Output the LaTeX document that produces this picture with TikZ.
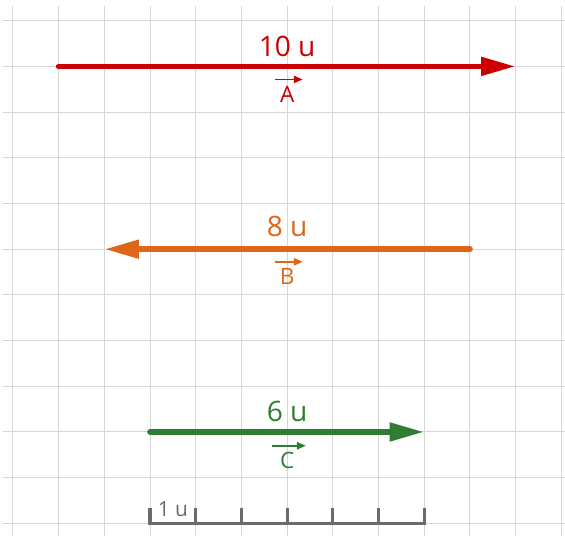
\documentclass[tikz,border=0pt]{standalone}
\usepackage{fontspec}
\setmainfont{Open Sans}
\usetikzlibrary{arrows.meta,calc}

\definecolor{vecred}{HTML}{CC0000}
\definecolor{vecorange}{HTML}{DF6518}
\definecolor{vecgreen}{HTML}{2E7D32}
\definecolor{bargray}{HTML}{6B6B6B}
\definecolor{gridgray}{HTML}{D6D6D6}

\begin{document}
\begin{tikzpicture}[scale = 1,
    gridline/.style = {gridgray, line width=0.6pt},
    vecline/.style = {line width=3.6pt, line cap=round, -{Triangle[length=21.5pt, width=11pt]}},
    lenlabel/.style = {font=\fontsize{17.5}{20}\selectfont, inner sep=0pt},
    namelabel/.style = {font=\fontsize{14}{16}\selectfont, inner sep=0pt},
    overarrow/.style = {line width=1.1pt, -{Triangle[length=5.5pt, width=4.5pt]}}]
    % Fix the margins
    \useasboundingbox (-0.284,-0.276) rectangle (12.08,11.453);

    % Draw grid
    \foreach \x in {0,...,12}
        \draw[gridline] (\x,-0.3) -- (\x,11.32);
    \foreach \y in {0,...,11}
        \draw[gridline] (-0.21,\y) -- (12.1,\y);

    % Draw vector A
    \draw[vecline, vecred] (1,10) coordinate (A0) -- ++(0:10cm) coordinate (A1);
    \node[lenlabel, vecred] (lenA) at ($(A0)!0.5!(A1)+(0,0.44)$) {10 u};
    \node[namelabel, vecred] (nameA) at ($(A0)!0.5!(A1)+(0,-0.61)$) {A};
    \draw[overarrow, vecred] ([xshift=-3pt, yshift=4pt]nameA.north west) -- ([xshift=5pt, yshift=4pt]nameA.north east);

    % Draw vector B
    \draw[vecline, vecorange] (10,6) coordinate (B0) -- ++(180:8cm) coordinate (B1);
    \node[lenlabel, vecorange] (lenB) at ($(B0)!0.5!(B1)+(0,0.5)$) {8 u};
    \node[namelabel, vecorange] (nameB) at ($(B0)!0.5!(B1)+(0,-0.6)$) {B};
    \draw[overarrow, vecorange] ([xshift=-3pt, yshift=4pt]nameB.north west) -- ([xshift=5pt, yshift=4pt]nameB.north east);

    % Draw vector C
    \draw[vecline, vecgreen] (3,2) coordinate (C0) -- ++(0:6cm) coordinate (C1);
    \node[lenlabel, vecgreen] (lenC) at ($(C0)!0.5!(C1)+(0,0.44)$) {6 u};
    \node[namelabel, vecgreen] (nameC) at ($(C0)!0.5!(C1)+(0,-0.63)$) {C};
    \draw[overarrow, vecgreen] ([xshift=-5pt, yshift=4pt]nameC.north west) -- ([xshift=7pt, yshift=4pt]nameC.north east);

    % Draw scale bar
    \draw[bargray, line width=2pt, line cap=rect] (3,0.3) -- (3,0) coordinate (S0) -- (9,0) coordinate (S1) -- (9,0.3);
    \foreach \x in {4,...,8}
        \draw[bargray, line width=2pt, line cap=rect] (\x,0) -- (\x,0.3);
    \node[bargray, font=\fontsize{13}{15}\selectfont, inner sep=0pt, anchor=base] (unit) at ($(S0)+(0.5,0.16)$) {1 u};
\end{tikzpicture}
\end{document}
